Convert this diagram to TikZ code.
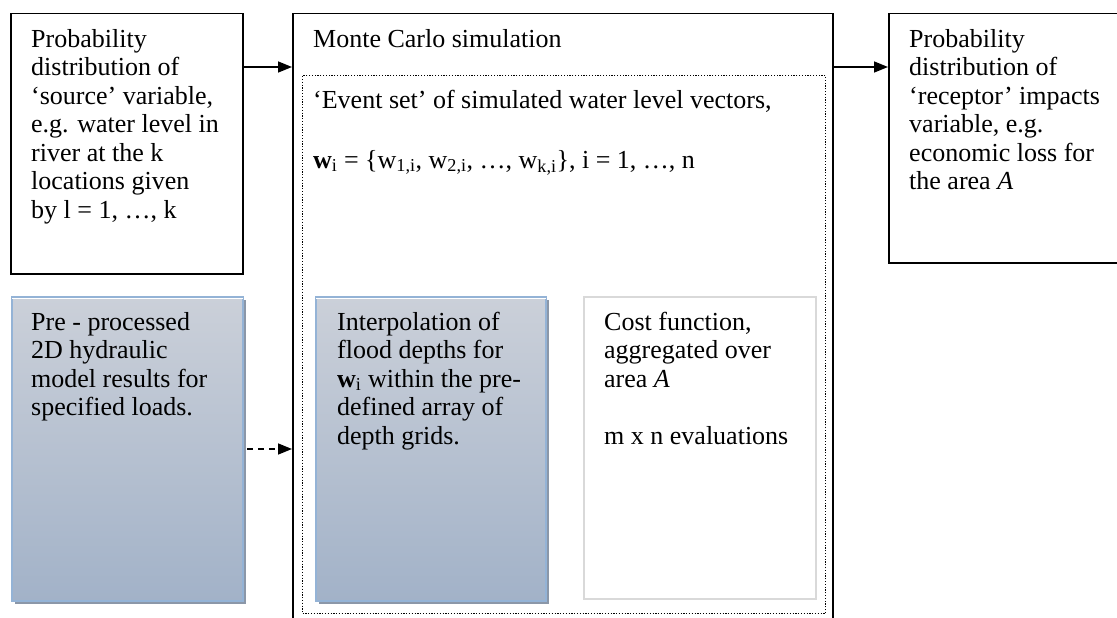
\documentclass[tikz,border=0pt]{standalone}
\usepackage{fontspec}
\setmainfont{Liberation Serif}
\usetikzlibrary{arrows.meta,shadows}

\definecolor{paneltop}{HTML}{CBD0D9}
\definecolor{panelbottom}{HTML}{A2B2C8}
\definecolor{panelrim}{HTML}{94B3D6}
\definecolor{panelshadow}{HTML}{8B97A8}
\definecolor{costrim}{HTML}{D9D9D9}

\tikzset{
  x=1pt, y=-1pt,
  frame/.style={draw=black, line width=1.5pt, rectangle, anchor=north west, inner sep=0pt},
  eventframe/.style={draw=black, line width=1pt, dash pattern=on 1.2pt off 1.6pt,
    rectangle, anchor=north west, inner sep=0pt},
  panel/.style={rectangle, anchor=north west, inner sep=0pt,
    top color=paneltop, bottom color=panelbottom, draw=panelrim, line width=2pt,
    drop shadow={shadow xshift=3pt, shadow yshift=-3pt, fill=panelshadow, opacity=1}},
  costframe/.style={draw=costrim, line width=1.5pt, rectangle, anchor=north west, inner sep=0pt},
  txt/.style={anchor=north west, inner sep=0pt, align=left,
    font=\fontsize{26}{28.5}\selectfont},
  flow/.style={line width=1.5pt, -{Triangle[length=14pt,width=11pt]}},
  feed/.style={line width=1.5pt, dash pattern=on 6pt off 5pt, -{Triangle[length=14pt,width=11pt]}},
}

\begin{document}
\begin{tikzpicture}
\useasboundingbox (0,0) rectangle (1117,618);
\clip (0,0) rectangle (1117,618);
\fill[white] (0,0) rectangle (1117,618);

% input, simulation and output frames
\node[frame, minimum width=232, minimum height=260] (src) at (10,13) {};
\node[frame, minimum width=540, minimum height=630] (mc) at (292,13) {};
\node[eventframe, minimum width=523, minimum height=538] (ev) at (302,75) {};
\node[frame, minimum width=240, minimum height=249] (rec) at (888,13) {};

% lower panels
\node[panel, minimum width=231, minimum height=304] (pre) at (11,296) {};
\node[panel, minimum width=230, minimum height=304] (interp) at (315,296) {};
\draw[white, line width=1.5pt] ([shift={(1,2.5)}]pre.north west) -- ([shift={(-1,2.5)}]pre.north east);
\draw[white, line width=1.5pt] ([shift={(1,2.5)}]interp.north west) -- ([shift={(-1,2.5)}]interp.north east);
\node[costframe, minimum width=232, minimum height=302] (cost) at (583,296) {};

% texts
\node[txt] (srctxt) at (31,27) {\strut Probability\\distribution of\\‘source’ variable,\\e.g. water level in\\river at the k\\locations given\\by l = 1, …, k};
\node[txt] (mctxt) at (313,27) {\strut Monte Carlo simulation};
\node[txt] (evtxt) at (313,88) {\strut ‘Event set’ of simulated water level vectors,\\[31.5pt]
  \textbf{w}\textsubscript{i} = \{w\textsubscript{1,i}, w\textsubscript{2,i}, …, w\textsubscript{k,i}\}, i = 1, …, n};
\node[txt] (rectxt) at (909,27) {\strut Probability\\distribution of\\‘receptor’ impacts\\variable, e.g.\\economic loss for\\the area \textit{A}};
\node[txt] (pretxt) at (31,310) {\strut Pre - processed\\2D hydraulic\\model results for\\specified loads.};
\node[txt] (interptxt) at (337,310) {\strut Interpolation of\\flood depths for\\\textbf{w}\textsubscript{i} within the pre-\\defined array of\\depth grids.};
\node[txt] (costtxt) at (604,310) {\strut Cost function,\\aggregated over\\area \textit{A}\\[28.5pt]m x n evaluations};

% connectors
\coordinate (inflow) at ([shift={(0,54)}]src.north east);
\coordinate (outflow) at ([shift={(0,54)}]mc.north east);
\draw[flow] (inflow) -- (inflow -| mc.west);
\draw[flow] (outflow) -- (outflow -| rec.west);
\draw[feed, shorten <=3pt] (pre.east) -- (pre.east -| mc.west);
\end{tikzpicture}
\end{document}
